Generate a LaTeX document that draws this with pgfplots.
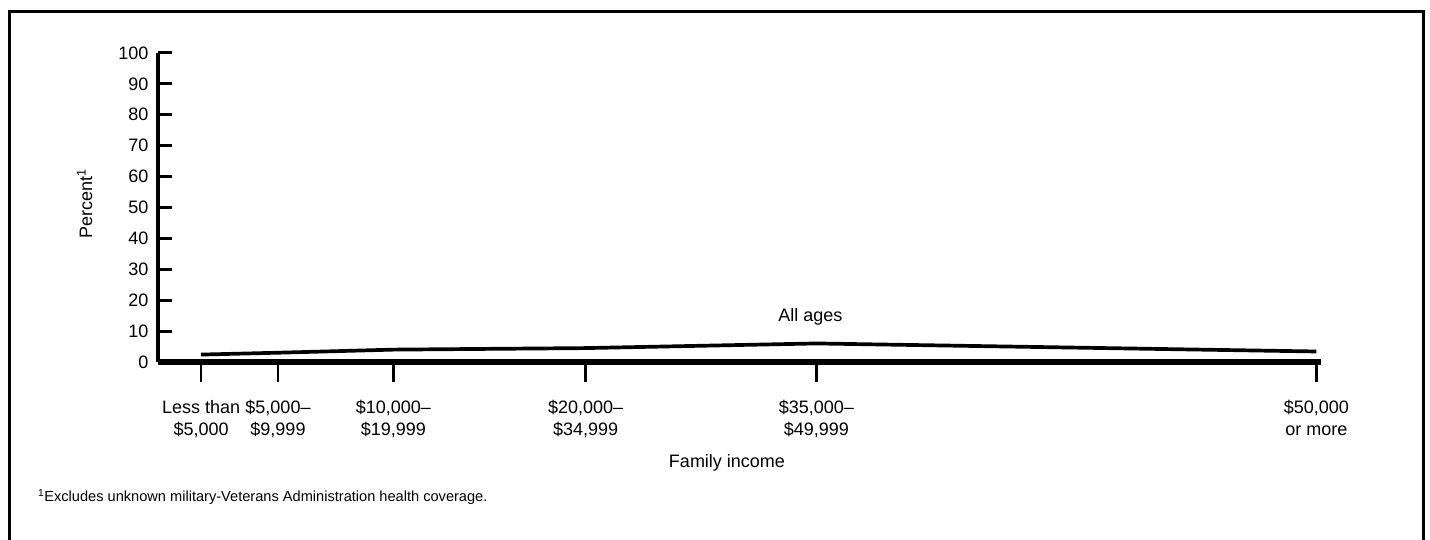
\documentclass[border=0pt]{standalone}
\usepackage{fontspec}
\setmainfont{Liberation Sans}
\usepackage{pgfplots}
\pgfplotsset{compat=1.18}
\begin{document}
\begin{tikzpicture}
\useasboundingbox (0pt,0pt) rectangle (1430pt,540pt);
\draw[line width=3pt] (9pt,-10pt) -- (9pt,528.5pt) -- (1423pt,528.5pt) -- (1423pt,-10pt);

% y axis, data
\begin{axis}[
    at={(158pt,178pt)}, anchor=south west,
    scale only axis, width=1163pt, height=309pt,
    xmin=-0.3, xmax=75.3, ymin=0, ymax=100,
    axis x line=none, axis y line=left,
    y axis line style={line width=4pt, -},
    xtick=\empty,
    ytick={0,10,...,100},
    tick align=inside,
    major tick length=14pt,
    ytick style={line width=3pt, black},
    yticklabel style={font=\fontsize{18}{20}\selectfont, xshift=-6pt},
    /pgf/number format/assume math mode=true,
    clip=false,
]
\addplot[black, line width=3.7pt, line join=round]
    coordinates {(2.5,2.4)(7.5,3.0)(15,4.0)(27.5,4.5)(42.5,6.0)(75,3.4)};
\node[anchor=base, font=\fontsize{18}{20}\selectfont] at (axis cs:42.1,13.2) {All ages};
\end{axis}

% x axis with income categories
\begin{axis}[
    at={(158pt,178pt)}, anchor=south west,
    scale only axis, width=1163pt, height=309pt,
    xmin=-0.3, xmax=75.3, ymin=0, ymax=100,
    axis x line=bottom, axis y line=none,
    x axis line style={line width=5.5pt, -},
    ytick=\empty,
    xtick={2.5,7.5,15,27.5,42.5,75},
    xticklabels={{Less than\\\$5,000},{\$5,000--\\\$9,999},{\$10,000--\\\$19,999},
        {\$20,000--\\\$34,999},{\$35,000--\\\$49,999},{\$50,000\\or more}},
    tick align=outside,
    major tick length=20pt,
    xtick style={line width=2.5pt, black},
    xticklabel style={font=\fontsize{18}{22}\selectfont, align=center, yshift=-15pt},
]
\end{axis}

\node[rotate=90, anchor=base, font=\fontsize{18}{20}\selectfont] at (92pt,336pt) {Percent\textsuperscript{1}};
\node[anchor=base, font=\fontsize{18}{20}\selectfont] at (727pt,72.5pt) {Family income};
\node[anchor=base west, inner sep=0pt, font=\fontsize{14.6}{16}\selectfont] at (38pt,38pt)
    {\textsuperscript{1}Excludes unknown military-Veterans Administration health coverage.};
\end{tikzpicture}
\end{document}
